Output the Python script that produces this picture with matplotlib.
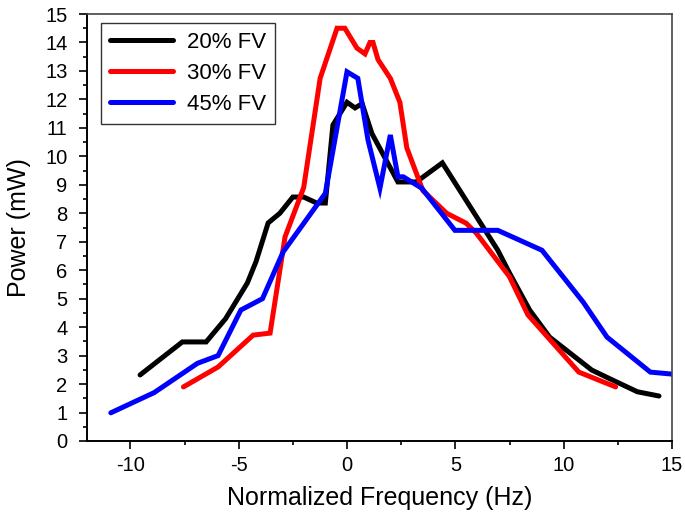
import matplotlib
matplotlib.use("Agg")
import matplotlib.pyplot as plt
from matplotlib.ticker import MultipleLocator

plt.rcParams['font.family'] = ['Liberation Sans', 'DejaVu Sans']

# 20% FV
x20 = [-9.55, -7.6, -6.5, -5.6, -4.6, -4.2, -3.64, -3.1, -2.5, -2.0, -1.4, -1.0,
       -0.65, 0.0, 0.37, 0.7, 1.15, 2.35, 3.2, 4.4, 6.96, 7.5, 8.43, 9.35, 11.3,
       12.26, 13.4, 14.4]
y20 = [2.32, 3.48, 3.48, 4.3, 5.55, 6.3, 7.66, 8.0, 8.57, 8.57, 8.36, 8.36,
       11.1, 11.9, 11.7, 11.85, 10.8, 9.1, 9.1, 9.77, 6.7, 5.9, 4.6, 3.65, 2.49,
       2.14, 1.73, 1.58]

# 30% FV
x30 = [-7.55, -5.95, -4.33, -3.55, -2.86, -2.0, -1.24, -0.46, -0.1, 0.46, 0.83,
       1.06, 1.2, 1.43, 2.0, 2.44, 2.76, 3.5, 4.6, 5.5, 5.97, 7.5, 8.35, 10.7, 12.4]
y30 = [1.9, 2.6, 3.72, 3.79, 7.17, 8.9, 12.74, 14.5, 14.5, 13.8, 13.6,
       14.0, 14.0, 13.4, 12.74, 11.9, 10.3, 8.8, 8.0, 7.65, 7.3, 5.77, 4.43, 2.42, 1.9]

# 45% FV
x45 = [-10.9, -8.9, -6.9, -5.95, -4.9, -3.9, -2.95, -1.0, 0.0, 0.5, 0.97, 1.52,
       2.0, 2.35, 2.6, 3.45, 4.98, 6.96, 9.0, 10.9, 12.0, 14.0, 15.0]
y45 = [0.99, 1.7, 2.73, 3.0, 4.6, 5.0, 6.64, 8.7, 12.97, 12.74, 10.57, 8.88,
       10.75, 9.28, 9.28, 8.88, 7.4, 7.4, 6.7, 4.88, 3.65, 2.42, 2.35]

labels = ["20% FV", "30% FV", "45% FV"]
colors = ["#000000", "#ff0000", "#0000ff"]

fig = plt.figure(figsize=(6.85, 5.23), dpi=100)
ax = fig.add_axes([87/685, 82/523, 585/685, 427/523])

for xs, ys, lab, c in zip([x20, x30, x45], [y20, y30, y45], labels, colors):
    ax.plot(xs, ys, color=c, lw=3.6, label=lab, solid_capstyle='round',
            solid_joinstyle='miter')

ax.set_xlim(-12, 15)
ax.set_ylim(0, 15)
ax.xaxis.set_major_locator(MultipleLocator(5))
ax.xaxis.set_minor_locator(MultipleLocator(2.5))
ax.yaxis.set_major_locator(MultipleLocator(1))
ax.yaxis.set_minor_locator(MultipleLocator(0.5))
ax.set_xticks([-10, -5, 0, 5, 10, 15])
ax.set_xticklabels(["-10", "-5", "0", "5", "10", "15"])

ax.tick_params(axis='x', which='major', direction='out', length=5.5, width=1.2,
               labelsize=14.5, pad=5)
ax.tick_params(axis='y', which='major', direction='out', length=6, width=1.2,
               labelsize=14.5, pad=8)
ax.tick_params(axis='both', which='minor', direction='out', length=3.2, width=1.2)

for s in ['left', 'bottom']:
    ax.spines[s].set_linewidth(1.4)
    ax.spines[s].set_color('black')
for s in ['top', 'right']:
    ax.spines[s].set_linewidth(1.2)
    ax.spines[s].set_color('#444444')

ax.set_xlabel("Normalized Frequency (Hz)", fontsize=18, labelpad=8)
ax.set_ylabel("Power (mW)", fontsize=18, labelpad=10)

leg = ax.legend(loc='upper left', bbox_to_anchor=(14/585, 1 - 9/427), fontsize=16,
                frameon=True, fancybox=False, edgecolor='black', handlelength=2.85,
                handletextpad=0.6, borderpad=0.4, labelspacing=0.45,
                borderaxespad=0)
leg.get_frame().set_linewidth(1.0)

fig.savefig("out.png", dpi=100)
